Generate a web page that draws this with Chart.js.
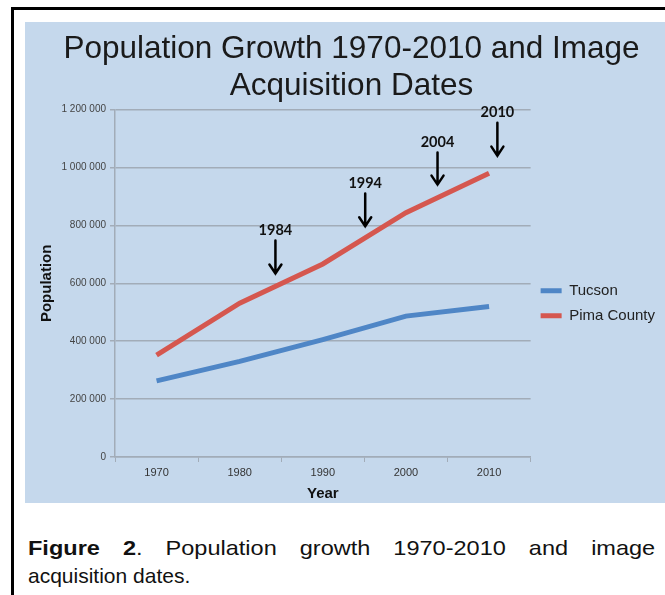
<!DOCTYPE html>
<html>
<head>
<meta charset="utf-8">
<script src="https://cdn.jsdelivr.net/npm/chart.js@4.4.1/dist/chart.umd.min.js"></script>
<style>
  body { margin: 0; width: 665px; height: 595px; background: #fff; position: relative; overflow: hidden; }
  #frame { position: absolute; left: 11px; top: 7px; width: 670px; height: 600px; border-left: 3px solid #000; border-top: 3px solid #000; }
  #panel { position: absolute; left: 25px; top: 22px; width: 640px; height: 481px; background: #c5d8ec; }
  #caption { position: absolute; left: 28px; top: 534px; width: 627px; font-family: 'Liberation Sans', Arial, sans-serif; font-size: 21px; line-height: 28px; color: #111; }
  #caption .l1 { display: block; width: 560px; text-align: justify; text-align-last: justify; transform: scaleX(1.12); transform-origin: 0 0; }
</style>
</head>
<body>
<div id="frame"></div>
<div id="panel"><canvas id="myChart" width="640" height="481"></canvas></div>
<div id="caption"><span class="l1"><b>Figure 2</b>. Population growth 1970-2010 and image</span>acquisition dates.</div>

<script>
// census years on the x axis
const years = ['1970', '1980', '1990', '2000', '2010'];
const tucson = [262933, 330537, 405390, 486699, 520116];
const pimaCounty = [351667, 531443, 666880, 843746, 980263];

// image acquisition arrows (x in years, top/tip in population units)
const acqLabels = ['1984', '1994', '2004', '2010'];
const acqYears = [1984.3, 1995.1, 2003.8, 2011];
const acqTop = [748000, 910000, 1052000, 1155000];
const acqTip = [634000, 797000, 941000, 1041000];

Chart.defaults.font.family = "'Liberation Sans', Arial, sans-serif";

const gridColor = '#a2acb8';

// draws the arrows + year labels on top of the lines
const arrowsPlugin = {
  id: 'arrows',
  afterDatasetsDraw(chart) {
    const { ctx, scales: { x, y } } = chart;
    ctx.save();
    ctx.strokeStyle = '#000';
    ctx.fillStyle = '#111';
    ctx.lineWidth = 2.5;
    ctx.lineCap = 'round';
    ctx.font = "bold 14.5px Lato, 'Liberation Sans', sans-serif";
    ctx.textAlign = 'center';
    ctx.textBaseline = 'middle';
    for (let i = 0; i < acqLabels.length; i++) {
      const px = x.getPixelForValue((acqYears[i] - 1970) / 10);
      const top = y.getPixelForValue(acqTop[i]);
      const tip = y.getPixelForValue(acqTip[i]);
      ctx.beginPath();
      ctx.moveTo(px, top);
      ctx.lineTo(px, tip);
      ctx.moveTo(px - 6, tip - 9);
      ctx.lineTo(px, tip);
      ctx.lineTo(px + 6, tip - 9);
      ctx.stroke();
      ctx.fillText(acqLabels[i], px, top - 10);
    }
    ctx.restore();
  }
};

const ctx = document.getElementById('myChart').getContext('2d');
new Chart(ctx, {
  type: 'line',
  data: {
    labels: years,
    datasets: [
      {
        label: 'Tucson',
        data: tucson,
        borderColor: '#4f86c6',
        backgroundColor: '#4f86c6',
        borderWidth: 5,
        pointRadius: 0,
        tension: 0
      },
      {
        label: 'Pima County',
        data: pimaCounty,
        borderColor: '#d5574f',
        backgroundColor: '#d5574f',
        borderWidth: 5,
        pointRadius: 0,
        tension: 0
      }
    ]
  },
  options: {
    responsive: false,
    animation: false,
    layout: { padding: { left: 13, right: 0, top: 0, bottom: 0 } },
    plugins: {
      title: {
        display: true,
        text: ['Population Growth 1970-2010 and Image', 'Acquisition Dates'],
        color: '#1a1a1a',
        font: { size: 31.5, weight: 'normal', lineHeight: 1.2 },
        padding: { top: 8, bottom: 4 }
      },
      legend: {
        position: 'right',
        fullSize: false,
        title: { display: true, text: ' ', padding: { top: 0, bottom: 22 }, font: { size: 15 } },
        labels: {
          boxWidth: 21,
          boxHeight: 5,
          color: '#222',
          font: { size: 15 },
          padding: 10,
          generateLabels: (chart) =>
            Chart.defaults.plugins.legend.labels.generateLabels(chart).map(l => ({ ...l, lineWidth: 0, fillStyle: l.strokeStyle }))
        }
      },
      tooltip: { enabled: false }
    },
    scales: {
      x: {
        offset: true,
        grid: { display: true, drawOnChartArea: false, offset: true, tickLength: 5, color: gridColor },
        border: { color: gridColor, width: 1.5 },
        ticks: { color: '#333', font: { size: 11 }, padding: 4 },
        title: { display: true, text: 'Year', color: '#111', font: { size: 15, weight: 'bold' }, padding: { top: 2, bottom: 0 } },
        afterFit: (scale) => { scale.height = 46; }
      },
      y: {
        min: 0,
        max: 1200000,
        ticks: {
          stepSize: 200000,
          color: '#444',
          font: { size: 10 },
          padding: 4,
          callback: (v) => String(v).replace(/\B(?=(\d{3})+(?!\d))/g, ' ')
        },
        grid: { color: gridColor, lineWidth: 1.5, tickLength: 5 },
        border: { color: gridColor, width: 1.5 },
        title: { display: true, text: 'Population', color: '#111', font: { size: 15, weight: 'bold' }, padding: 0 },
        afterFit: (scale) => { scale.width = 77; }
      }
    }
  },
  plugins: [arrowsPlugin]
});
</script>
</body>
</html>
